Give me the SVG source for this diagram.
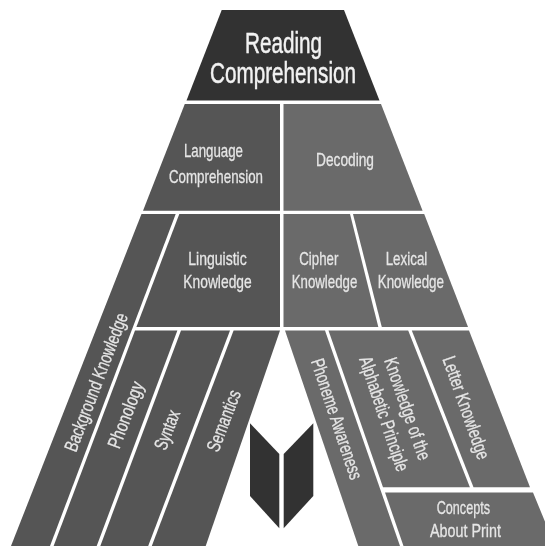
<svg xmlns="http://www.w3.org/2000/svg" width="545" height="546" viewBox="0 0 545 546">
<defs>
<style>
.d{fill:#333333}.m{fill:#545454}.l{fill:#6a6a6a}
text{font-family:"Liberation Sans Narrow","Liberation Sans",Arial,sans-serif;fill:#e6e6e6;stroke:#e6e6e6;text-anchor:start}
.t{font-size:29px;fill:#f2f2f2;stroke:#f2f2f2;stroke-width:.5px}.s{font-size:19px;stroke-width:.3px}
</style>
<filter id="soft" x="-5%" y="-5%" width="110%" height="110%"><feGaussianBlur stdDeviation="0.55"/></filter>
</defs>
<rect width="545" height="546" fill="#fff"/>
<g filter="url(#soft)">
<g id="reading-comprehension"><polygon class="d" points="221.7,10 344,10 379.5,100.5 186.5,100.5"/>
<text class="t" x="245" y="53" textLength="77" lengthAdjust="spacingAndGlyphs">Reading</text>
<text class="t" x="210" y="83.3" textLength="146" lengthAdjust="spacingAndGlyphs">Comprehension</text></g>
<g id="language-comprehension"><polygon class="m" points="184.8,104 280,104 280,210.7 143,210.7"/>
<text class="s" x="184" y="157" textLength="59" lengthAdjust="spacingAndGlyphs">Language</text>
<text class="s" x="169" y="182.7" textLength="94" lengthAdjust="spacingAndGlyphs">Comprehension</text></g>
<g id="decoding"><polygon class="l" points="283.5,104 381,104 422.6,210.7 283.5,210.7"/>
<text class="s" x="316" y="166" textLength="58" lengthAdjust="spacingAndGlyphs">Decoding</text></g>
<g id="background-knowledge"><polygon class="m" points="141.5,214 175.7,214 50,546 11,546"/>
<text class="s" transform="translate(76 453) rotate(-69.1)" textLength="146.6" lengthAdjust="spacingAndGlyphs">Background Knowledge</text></g>
<g id="linguistic-knowledge"><polygon class="m" points="179.3,214 280,214 280,327 136.4,327"/>
<text class="s" x="188.3" y="265.2" textLength="58.4" lengthAdjust="spacingAndGlyphs">Linguistic</text>
<text class="s" x="183.3" y="288.3" textLength="68.4" lengthAdjust="spacingAndGlyphs">Knowledge</text></g>
<g id="cipher-knowledge"><polygon class="l" points="283.5,214 350,214 378.3,327 283.5,327"/>
<text class="s" x="299.3" y="265.2" textLength="39" lengthAdjust="spacingAndGlyphs">Cipher</text>
<text class="s" x="291.7" y="288.3" textLength="65.6" lengthAdjust="spacingAndGlyphs">Knowledge</text></g>
<g id="lexical-knowledge"><polygon class="l" points="353,214 424.2,214 468,327 381.8,327"/>
<text class="s" x="385.7" y="264.5" textLength="41.6" lengthAdjust="spacingAndGlyphs">Lexical</text>
<text class="s" x="377.7" y="288.3" textLength="66.3" lengthAdjust="spacingAndGlyphs">Knowledge</text></g>
<g id="phonology"><polygon class="m" points="135,330.5 177.4,330.5 96.7,546 53.6,546"/>
<text class="s" transform="translate(119.3 449.7) rotate(-69.1)" textLength="69.6" lengthAdjust="spacingAndGlyphs">Phonology</text></g>
<g id="syntax"><polygon class="m" points="181,330.5 230,330.5 148.2,546 100.3,546"/>
<text class="s" transform="translate(165.7 451.3) rotate(-69.1)" textLength="41" lengthAdjust="spacingAndGlyphs">Syntax</text></g>
<g id="semantics"><polygon class="m" points="233.6,330.5 280,330.5 205.7,546 151.8,546"/>
<text class="s" transform="translate(218.3 453) rotate(-69.1)" textLength="64" lengthAdjust="spacingAndGlyphs">Semantics</text></g>
<g id="phoneme-awareness"><polygon class="l" points="285,330.5 325,330.5 400,546 358.3,546"/>
<text class="s" transform="translate(310.7 361.3) rotate(71.5)" textLength="126" lengthAdjust="spacingAndGlyphs">Phoneme Awareness</text></g>
<g id="alphabetic-principle"><polygon class="l" points="328.5,330.5 408.2,330.5 469.9,487.3 383,487.3"/>
<text class="s" transform="translate(384 360.3) rotate(70.9)" textLength="107" lengthAdjust="spacingAndGlyphs">Knowledge of the</text>
<text class="s" transform="translate(359 359) rotate(71.5)" textLength="120" lengthAdjust="spacingAndGlyphs">Alphabetic Principle</text></g>
<g id="letter-knowledge"><polygon class="l" points="411.8,330.5 469,330.5 530,487.3 473.5,487.3"/>
<text class="s" transform="translate(442.3 359) rotate(70.6)" textLength="108" lengthAdjust="spacingAndGlyphs">Letter Knowledge</text></g>
<g id="concepts-about-print"><polygon class="l" points="385,492.5 533,492.5 555,546 403.5,546"/>
<text class="s" x="436.7" y="514" textLength="53.3" lengthAdjust="spacingAndGlyphs">Concepts</text>
<text class="s" x="430" y="537" textLength="71" lengthAdjust="spacingAndGlyphs">About Print</text></g>
<g id="book"><polygon class="d" points="250,423.3 279.3,454 279.3,528.3 250,496"/>
<polygon class="d" points="283.7,454 313.3,423.3 313.3,496 283.7,528.3"/></g>
</g>
</svg>
